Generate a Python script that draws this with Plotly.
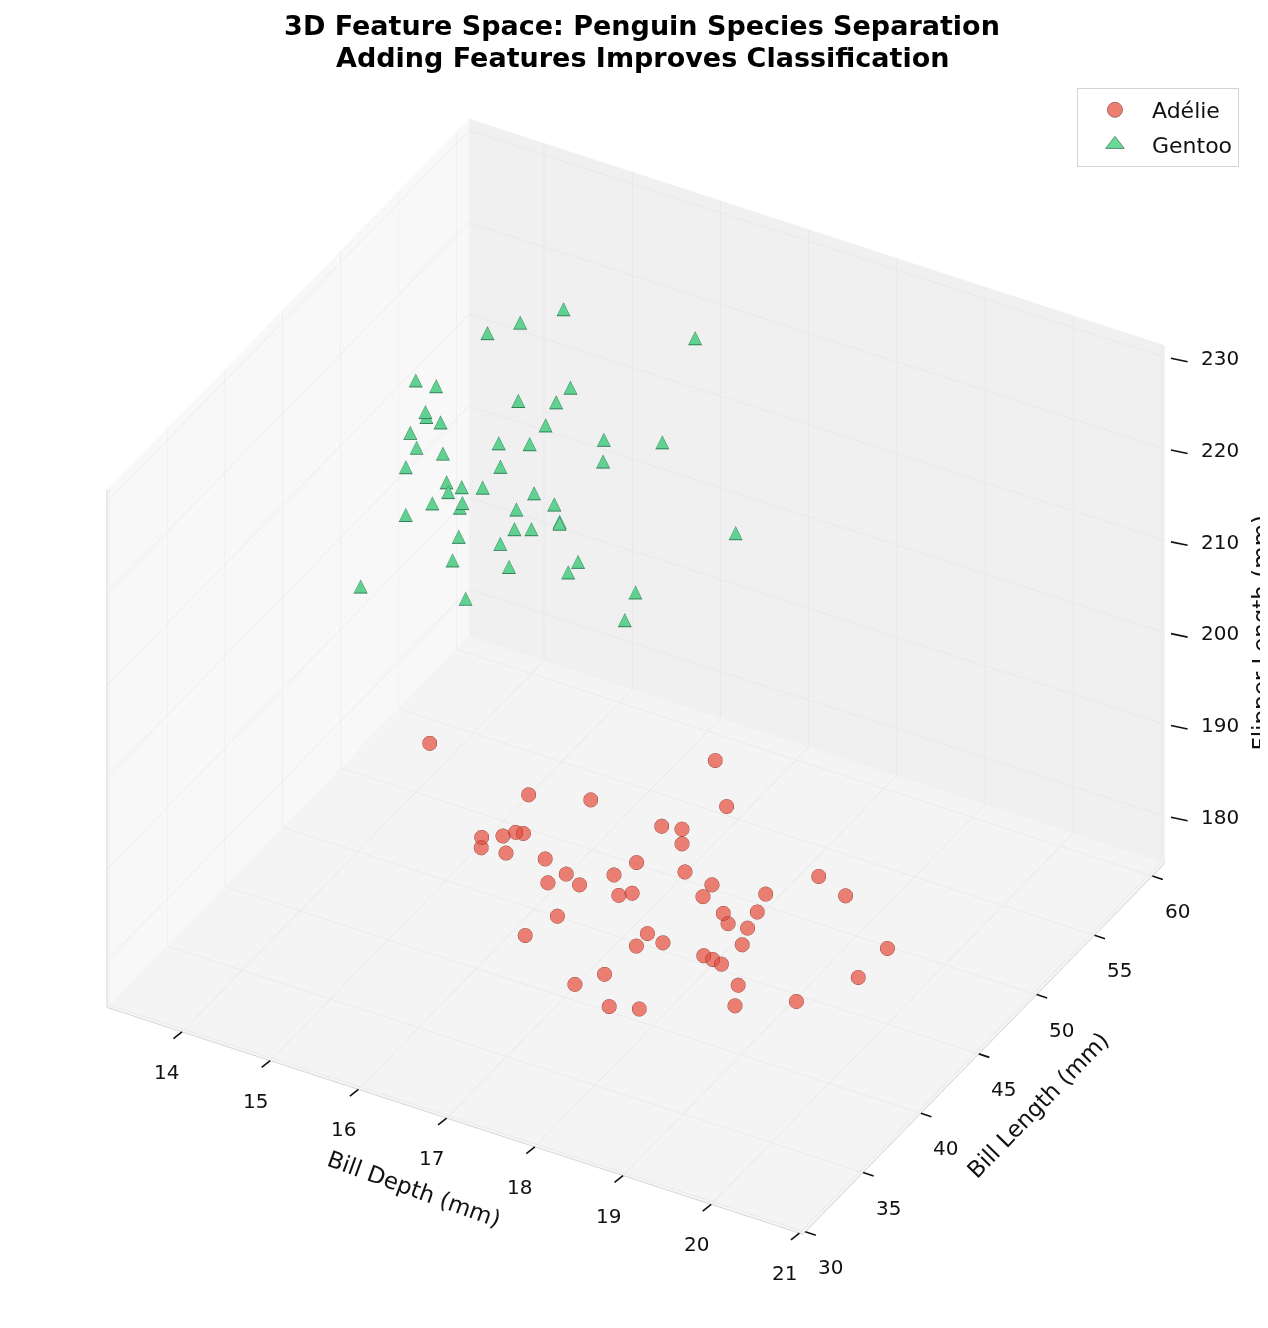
import plotly.graph_objects as go

# ---------------- data ----------------
adelie_depth = [15.47, 18.51, 16.46, 17.23, 18.77, 18.10, 18.46, 16.19, 16.30, 16.51,
                16.40, 16.25, 18.33, 16.40, 16.91, 17.88, 17.28, 17.69, 18.56, 16.94,
                17.43, 18.80, 19.88, 17.81, 17.83, 18.83, 19.41, 20.25, 19.38, 19.06,
                19.18, 19.27, 17.31, 16.88, 18.20, 18.14, 18.31, 19.34, 20.79, 18.97,
                18.94, 19.17, 17.91, 17.64, 19.36, 20.59, 20.02, 18.16, 18.37, 19.39]
adelie_length = [40.0, 41.5, 41.0, 40.5, 40.5, 40.0, 39.0, 39.0, 40.0, 39.5,
                 41.0, 38.5, 40.0, 39.5, 39.0, 39.5, 38.0, 39.0, 38.5, 39.0,
                 38.0, 39.0, 40.0, 38.5, 39.5, 38.0, 39.0, 39.5, 38.5, 38.0,
                 37.5, 38.5, 37.0, 37.5, 38.0, 37.5, 38.5, 37.5, 39.0, 37.0,
                 38.0, 37.0, 36.5, 36.0, 37.0, 38.0, 37.0, 35.0, 36.0, 36.5]
adelie_flipper = [197.8, 203.5, 194.0, 196.5, 200.6, 197.0, 199.1, 191.1, 190.3, 192.0,
                  189.6, 190.8, 195.8, 189.4, 191.0, 193.0, 191.8, 191.7, 195.4, 188.5,
                  191.1, 194.1, 197.1, 190.5, 189.5, 194.2, 195.0, 196.8, 193.6, 193.1,
                  193.0, 191.5, 188.6, 184.5, 188.2, 187.3, 186.9, 191.2, 193.4, 189.5,
                  187.7, 189.2, 184.8, 183.5, 187.5, 190.9, 187.8, 184.0, 183.1, 186.0]

gentoo_depth = [15.15, 14.79, 14.55, 16.38, 14.13, 14.23, 15.36, 14.90, 15.46, 14.24,
                14.12, 14.15, 15.21, 14.20, 15.87, 14.94, 15.16, 16.27, 14.14, 14.57,
                15.73, 15.09, 14.28, 14.48, 14.63, 14.52, 14.89, 15.21, 14.58, 14.79,
                14.63, 15.57, 15.14, 15.50, 15.76, 14.41, 15.38, 15.31, 16.97, 14.88,
                15.22, 14.94, 15.97, 15.45, 15.99, 14.03, 16.49, 15.22, 16.50]
gentoo_length = [54, 53, 52, 56, 49, 50, 53, 52, 51, 49,
                 50, 51, 52, 48, 52, 50, 51, 54, 49, 48,
                 53, 49, 47, 49, 48, 50, 49, 51, 47, 48,
                 49, 50, 50, 51, 49, 46, 48, 50, 55, 47,
                 48, 46, 49, 47, 48, 45, 50, 45, 49]
gentoo_flipper = [226.0, 224.7, 224.1, 224.1, 221.5, 219.9, 219.4, 217.8, 220.7, 218.4,
                  216.2, 214.4, 216.1, 217.3, 216.6, 215.9, 215.2, 215.0, 214.2, 216.2,
                  212.5, 215.1, 215.1, 211.5, 212.2, 209.8, 212.2, 210.0, 212.1, 211.5,
                  209.2, 211.2, 209.3, 207.8, 211.0, 211.6, 210.5, 207.7, 206.0, 209.4,
                  208.4, 208.3, 207.5, 207.9, 207.7, 203.9, 204.5, 206.3, 202.8]

x_ticks = [14, 15, 16, 17, 18, 19, 20, 21]
y_ticks = [30, 35, 40, 45, 50, 55, 60]
z_ticks = [180, 190, 200, 210, 220, 230]
x_range = [13.15, 21.04]
y_range = [29.8, 61.1]
z_range = [174.9, 231.3]

title_line1 = "3D Feature Space: Penguin Species Separation"
title_line2 = "Adding Features Improves Classification"
x_title = "Bill Depth (mm)"
y_title = "Bill Length (mm)"
z_title = "Flipper Length (mm)"

FONT = "DejaVu Sans"
ADELIE_COLOR = "#e74c3c"
ADELIE_EDGE = "#7a3128"
GENTOO_COLOR = "#2ecc71"
GENTOO_FILL = "#60d190"
GENTOO_EDGE = "#33805a"
INK = "#111111"

fig = go.Figure()

# legend entries (2D proxies so the legend symbols match the reference)
fig.add_trace(go.Scatter(
    x=[None], y=[None], mode="markers", name="Adélie", legendgroup="adelie",
    marker=dict(symbol="circle", size=15, color=ADELIE_COLOR, opacity=0.72,
                line=dict(color=ADELIE_EDGE, width=1)),
))
fig.add_trace(go.Scatter(
    x=[None], y=[None], mode="markers", name="Gentoo", legendgroup="gentoo",
    marker=dict(symbol="triangle-up", size=16, color=GENTOO_COLOR, opacity=0.72,
                line=dict(color="#1d5e37", width=1)),
))

fig.add_trace(go.Scatter3d(
    x=adelie_depth, y=adelie_length, z=adelie_flipper,
    mode="markers", name="Adélie", legendgroup="adelie", showlegend=False,
    marker=dict(symbol="circle", size=8.5, color=ADELIE_COLOR, opacity=0.7,
                line=dict(color=ADELIE_EDGE, width=0.8)),
))

# triangle glyphs: dark outline layer, then fill layer
fig.add_trace(go.Scatter3d(
    x=gentoo_depth, y=gentoo_length, z=gentoo_flipper,
    mode="text", name="Gentoo", legendgroup="gentoo", showlegend=False,
    text=["▲"] * len(gentoo_depth), textposition="middle center",
    textfont=dict(family=FONT, size=18.5, color=GENTOO_EDGE),
))
fig.add_trace(go.Scatter3d(
    x=gentoo_depth, y=gentoo_length, z=gentoo_flipper,
    mode="text", name="Gentoo", legendgroup="gentoo", showlegend=False,
    text=["▲"] * len(gentoo_depth), textposition="middle center",
    textfont=dict(family=FONT, size=16, color=GENTOO_FILL),
))

axis_common = dict(
    showbackground=True, gridcolor="#e1e1e1", gridwidth=1,
    zeroline=False, showline=True, linecolor="#cdcdcd", linewidth=1.5,
    ticks="", showticklabels=False, title=dict(text=""),
    showspikes=False,
)
title_font = dict(family=FONT, size=23, color=INK)
tick_font = dict(family=FONT, size=20, color=INK)
tiny_font = dict(family=FONT, size=1, color="rgba(0,0,0,0)")

# matplotlib-style tick marks and labels, placed through the scene's own data scale
ann = []
for t in x_ticks:
    ann.append(dict(x=t, y=y_range[0], z=z_range[0], text=" ", font=tiny_font,
                    showarrow=True, arrowhead=0, arrowwidth=1.6, arrowcolor=INK,
                    ax=-10, ay=8, standoff=0, startstandoff=0))
    ann.append(dict(x=t, y=y_range[0], z=z_range[0], text=str(t), font=tick_font,
                    showarrow=False, xshift=-15, yshift=-40))
for t in y_ticks:
    ann.append(dict(x=x_range[1], y=t, z=z_range[0], text=" ", font=tiny_font,
                    showarrow=True, arrowhead=0, arrowwidth=1.6, arrowcolor=INK,
                    ax=12, ay=4, standoff=0, startstandoff=0))
    ann.append(dict(x=x_range[1], y=t, z=z_range[0], text=str(t), font=tick_font,
                    showarrow=False, xshift=25, yshift=-35))
for t in z_ticks:
    ann.append(dict(x=x_range[1], y=y_range[1], z=t, text=" ", font=tiny_font,
                    showarrow=True, arrowhead=0, arrowwidth=1.6, arrowcolor=INK,
                    ax=24, ay=5, standoff=6, startstandoff=0))
    ann.append(dict(x=x_range[1], y=y_range[1], z=t, text=str(t), font=tick_font,
                    showarrow=False, xshift=55, yshift=-1))
ann.append(dict(x=16.5, y=y_range[0], z=z_range[0], text=x_title, font=title_font,
                showarrow=False, textangle=20, xshift=12, yshift=-85))
ann.append(dict(x=x_range[1], y=45, z=z_range[0], text=y_title, font=title_font,
                showarrow=False, textangle=-46, xshift=59, yshift=-51))
ann.append(dict(x=x_range[1], y=y_range[1], z=200, text=z_title, font=title_font,
                showarrow=False, textangle=-90, xshift=96))

eye_dir = (0.4007, -0.7108, 0.578)
r = 2.0
k = 1.23  # box scale

fig.update_layout(
    width=1268, height=1328,
    margin=dict(l=0, r=0, t=0, b=0),
    paper_bgcolor="white", plot_bgcolor="rgba(0,0,0,0)",
    font=dict(family=FONT, color=INK),
    title=dict(text=title_line1, x=0.5, xanchor="center",
               y=1 - 18 / 1328, yanchor="middle", yref="container",
               font=dict(family=FONT, size=27, color="black", weight="bold")),
    annotations=[dict(text=title_line2, x=0.5, xanchor="center", xref="paper",
                      y=1 - 49 / 1328, yanchor="middle", yref="paper", showarrow=False,
                      font=dict(family=FONT, size=27, color="black", weight="bold"))],
    xaxis=dict(visible=False), yaxis=dict(visible=False),
    legend=dict(x=0.9708, xanchor="right", y=1 - 80 / 1328, yanchor="top",
                bgcolor="rgba(255,255,255,0.85)", bordercolor="#d3d3d3", borderwidth=1,
                font=dict(family=FONT, size=22, color=INK), itemwidth=64,
                tracegroupgap=3),
    scene=dict(
        domain=dict(x=[0.0, 0.9906], y=[0.0076, 0.986]),
        bgcolor="rgba(0,0,0,0)",
        xaxis=dict(range=x_range, tickvals=x_ticks, backgroundcolor="#f8f8f8", **axis_common),
        yaxis=dict(range=y_range, tickvals=y_ticks, backgroundcolor="#f0f0f0", **axis_common),
        zaxis=dict(range=z_range, tickvals=z_ticks, backgroundcolor="#f4f4f4", **axis_common),
        annotations=ann,
        aspectmode="manual", aspectratio=dict(x=1 * k, y=0.923 * k, z=0.794 * k),
        camera=dict(eye=dict(x=r * eye_dir[0], y=r * eye_dir[1], z=r * eye_dir[2]),
                    up=dict(x=0, y=0, z=1), center=dict(x=0, y=0, z=0),
                    projection=dict(type="orthographic")),
    ),
)

fig.write_html("out.html")
